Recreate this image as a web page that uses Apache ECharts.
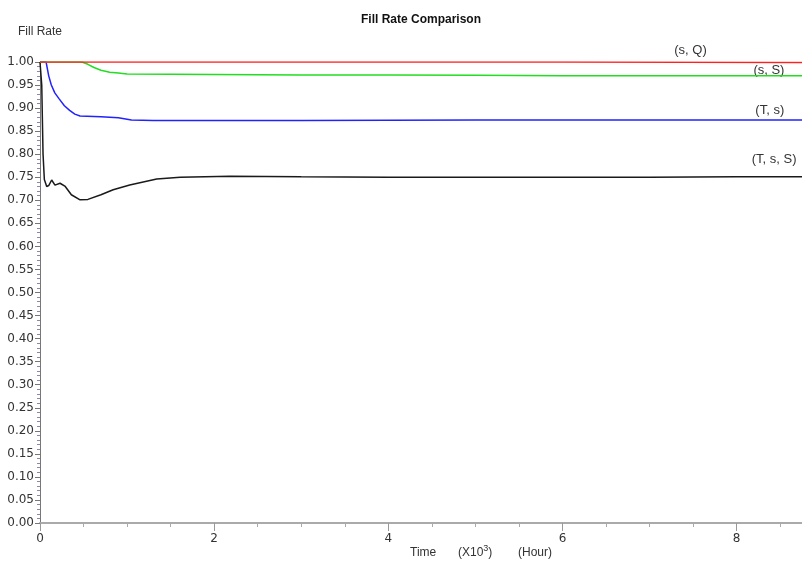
<!DOCTYPE html>
<html>
<head>
<meta charset="utf-8">
<script src="https://cdn.jsdelivr.net/npm/echarts@6/dist/echarts.min.js"></script>
<style>html,body{margin:0;padding:0;background:#fff}#c{width:802px;height:563px}</style>
</head>
<body>
<div id="c"></div>
<script>
// Time in 10^3 hours, fill rate values
var sQ = [[0,1],[3,1],[6,1],[8.75,0.999]];
var sS = [[0,1],[0.48,1],[0.55,0.995],[0.62,0.988],[0.7,0.982],[0.8,0.978],[0.9,0.976],[1.0,0.974],[2,0.973],[3,0.972],[4,0.972],[5,0.971],[6,0.970],[7,0.970],[8.75,0.970]];
var Ts = [[0,1],[0.07,1],[0.1,0.97],[0.13,0.95],[0.17,0.933],[0.22,0.92],[0.28,0.905],[0.34,0.895],[0.4,0.887],[0.46,0.883],[0.7,0.881],[0.9,0.879],[1.05,0.874],[1.3,0.873],[3,0.873],[5,0.874],[7,0.874],[8.75,0.874]];
var TsS = [[0,1],[0.02,0.95],[0.035,0.80],[0.05,0.745],[0.077,0.730],[0.1,0.732],[0.134,0.744],[0.172,0.733],[0.23,0.737],[0.29,0.730],[0.36,0.712],[0.46,0.701],[0.55,0.702],[0.7,0.712],[0.84,0.723],[1.03,0.733],[1.34,0.746],[1.61,0.750],[2.18,0.752],[3,0.751],[4,0.750],[5,0.750],[6,0.750],[7,0.750],[8,0.751],[8.75,0.751]];
var seriesNames = ['(s, Q)','(s, S)','(T, s)','(T, s, S)'];
var labelAt = [[7.47,1.0245],[8.37,0.981],[8.38,0.894],[8.43,0.788]];
var xMax = 8.75, xMajor = 2, xMinor = 0.5;
var yMin = 0, yMax = 1, yStep = 0.05;

var FONT = 'Liberation Sans, Arial, sans-serif';
var TICKFONT = 'DejaVu Sans, sans-serif';
var colors = ['#ff2020','#22dd22','#2222ff','#1a1a1a'];
var datas = [sQ, sS, Ts, TsS];
var series = datas.map(function(d,i){
  return {
    name: seriesNames[i], type:'line', data:d, showSymbol:false, symbol:'none',
    lineStyle:{color:colors[i], width:1.5}, itemStyle:{color:colors[i]},
    animation:false, z: 10 - i
  };
});

var chart = echarts.init(document.getElementById('c'));
var axisBase = {
  type:'value', min:0, max:xMax,
  splitLine:{show:false}
};
chart.setOption({
  animation:false,
  backgroundColor:'#fff',
  title:{text:'Fill Rate Comparison', left:416, top:9, textAlign:'center',
    textStyle:{fontSize:12, fontWeight:'bold', color:'#111', fontFamily:FONT}},
  grid:{left:40, right:0, top:62, bottom:40, containLabel:false},
  xAxis:[
    Object.assign({}, axisBase, {
      interval:xMinor,
      axisLine:{show:true, lineStyle:{color:'#aaa', width:2}},
      axisTick:{show:true, length:4, lineStyle:{color:'#aaa'}},
      axisLabel:{color:'#333', fontSize:12, margin:10, fontFamily:TICKFONT, showMaxLabel:false,
        formatter:function(v){ return (Math.abs(v/xMajor - Math.round(v/xMajor)) < 1e-9) ? String(v) : ''; }}
    }),
    Object.assign({}, axisBase, {
      interval:xMajor, position:'bottom',
      axisLine:{show:false},
      axisTick:{show:true, length:8, lineStyle:{color:'#999'}},
      axisLabel:{show:false}
    })
  ],
  yAxis:{
    type:'value', min:yMin, max:yMax, interval:yStep,
    axisLine:{show:true, lineStyle:{color:'#777', width:1}},
    axisTick:{show:true, length:5, lineStyle:{color:'#777'}},
    minorTick:{show:true, splitNumber:5, length:3, lineStyle:{color:'#8a8aa8'}},
    splitLine:{show:false},
    axisLabel:{color:'#333', fontSize:12, margin:6, fontFamily:TICKFONT,
      formatter:function(v){return v.toFixed(2);}}
  },
  series:series
});

var graphics = [
  {type:'text', left:18, top:26, style:{text:'Fill Rate', fontSize:12, fill:'#333', fontFamily:FONT}},
  {type:'text', left:410, top:547, style:{text:'Time', fontSize:12, fill:'#333', fontFamily:FONT}},
  {type:'text', left:458, top:544, style:{text:'(X10{s|3})', fontSize:12, fill:'#333', fontFamily:FONT,
    rich:{s:{fontSize:9, fill:'#333', padding:[0,0,8,0], fontFamily:FONT}}}},
  {type:'text', left:518, top:547, style:{text:'(Hour)', fontSize:12, fill:'#333', fontFamily:FONT}}
];
labelAt.forEach(function(c,i){
  var p = chart.convertToPixel({gridIndex:0}, c);
  graphics.push({type:'text', x:p[0], y:p[1],
    style:{text:seriesNames[i], fontSize:13, fill:'#333', fontFamily:FONT, align:'center', verticalAlign:'middle'}});
});
chart.setOption({graphic:graphics});
</script>
</body>
</html>
